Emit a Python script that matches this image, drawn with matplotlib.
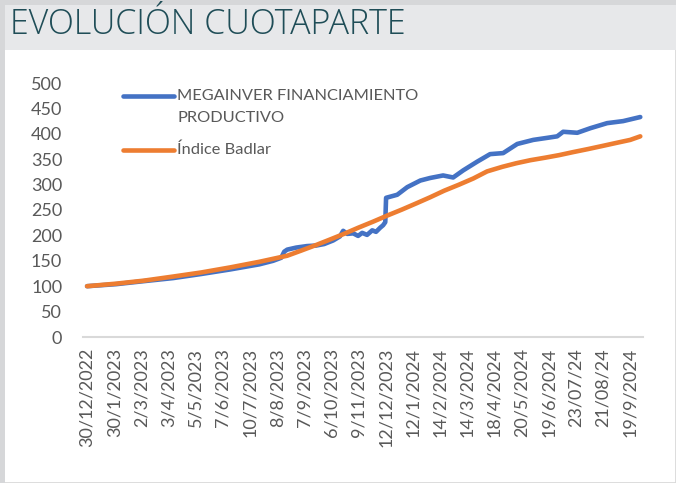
import matplotlib.pyplot as plt
from matplotlib.patches import Rectangle
from matplotlib.lines import Line2D

# tick labels (one every ~21 trading days on a category axis)
tick_labels = ['30/12/2022', '30/1/2023', '2/3/2023', '3/4/2023', '5/5/2023',
               '7/6/2023', '10/7/2023', '8/8/2023', '7/9/2023', '6/10/2023',
               '9/11/2023', '12/12/2023', '12/1/2024', '14/2/2024', '14/3/2024',
               '18/4/2024', '20/5/2024', '19/6/2024', '23/07/24', '21/08/24',
               '19/9/2024']

# position along the axis, in label steps
badlar_x = [0, 1.07, 2.10, 3.17, 4.20, 5.27, 6.34, 7.37, 7.88, 8.43, 8.95,
            9.46, 9.98, 10.53, 11.05, 11.60, 12.12, 12.63, 13.15, 13.70,
            14.22, 14.73, 15.29, 15.80, 16.32, 16.87, 17.38, 17.90, 18.45,
            18.97, 19.48, 20.0, 20.37]
badlar = [100, 105, 111, 119, 127, 137, 148, 160, 170, 181, 192, 203, 215,
          227, 239, 251, 263, 275, 288, 300, 312, 326, 335, 342, 348, 353,
          358, 364, 370, 376, 382, 388, 395]

fondo_x = [0, 1.07, 2.10, 3.17, 4.20, 5.27, 6.34, 6.85, 7.15, 7.26, 7.37,
           7.70, 8.10, 8.43, 8.73, 9.06, 9.31, 9.43, 9.58, 9.80, 9.98, 10.13,
           10.31, 10.50, 10.64, 10.79, 10.90, 10.98, 11.01, 11.42, 11.79,
           12.27, 12.63, 13.11, 13.48, 13.85, 14.36, 14.84, 15.32, 15.84,
           16.43, 16.94, 17.31, 17.53, 18.05, 18.53, 19.15, 19.74, 20.37]
fondo = [100, 104, 110, 116, 124, 133, 143, 150, 156, 168, 172, 176, 179,
         180, 183, 190, 198, 209, 203, 204, 199, 205, 201, 210, 207, 215, 220,
         226, 274, 280, 295, 308, 313, 318, 314, 328, 345, 360, 362, 380,
         388, 392, 395, 404, 402, 411, 421, 425, 433]

yticks = list(range(0, 501, 50))

font = 'Lato'
grey = '#595959'

fig = plt.figure(figsize=(6.76, 4.83), dpi=100)
fig.patch.set_facecolor('white')

# frame and title band
for r in [Rectangle((0, 0), 1, 1, facecolor='white', edgecolor='#D9D9D9', lw=2),
          Rectangle((0, 1 - 50 / 483), 1, 50 / 483, facecolor='#E7E8EA',
                    edgecolor='none'),
          Rectangle((0, 1 - 5 / 483), 1, 5 / 483, facecolor='#D6D7D9',
                    edgecolor='none'),
          Rectangle((0, 0), 5 / 676, 1, facecolor='#D6D7D9', edgecolor='none')]:
    r.set_transform(fig.transFigure)
    r.set_zorder(-10)
    fig.patches.append(r)

fig.text(10 / 676, 1 - 25 / 483, 'EVOLUCIÓN CUOTAPARTE', fontsize=24.5,
         family='Open Sans', fontweight='light', color='#1F4D57', va='center')

ax = fig.add_axes([83 / 676, 1 - 337 / 483, 560 / 676, 254 / 483])
ax.patch.set_alpha(0)
ax.plot(fondo_x, fondo, color='#4472C4', lw=3.3, solid_capstyle='round',
        solid_joinstyle='round')
ax.plot(badlar_x, badlar, color='#ED7D31', lw=3.3, solid_capstyle='round',
        solid_joinstyle='round')

ax.set_xlim(-0.15, 20.47)
ax.set_ylim(0, 500)
ax.set_yticks(yticks)
ax.set_yticklabels([str(v) for v in yticks], family=font, fontsize=13,
                   color=grey)
ax.set_xticks(range(len(tick_labels)))
ax.set_xticklabels(tick_labels, rotation=90, family=font, fontsize=13,
                   color=grey, va='top', ha='center')
ax.tick_params(axis='both', length=0)
ax.tick_params(axis='y', pad=15)
ax.tick_params(axis='x', pad=8)
for s in ['top', 'right', 'left']:
    ax.spines[s].set_visible(False)
ax.spines['bottom'].set_color('#D9D9D9')
ax.spines['bottom'].set_linewidth(1.5)

# legend
ax.add_line(Line2D([0.072, 0.163], [0.949, 0.949], transform=ax.transAxes,
                   color='#4472C4', lw=3.3, solid_capstyle='round'))
ax.add_line(Line2D([0.072, 0.163], [0.736, 0.736], transform=ax.transAxes,
                   color='#ED7D31', lw=3.3, solid_capstyle='round'))
ax.text(0.168, 0.949, 'MEGAINVER FINANCIAMIENTO', transform=ax.transAxes,
        family=font, fontsize=11.8, color=grey, va='center')
ax.text(0.168, 0.862, 'PRODUCTIVO', transform=ax.transAxes,
        family=font, fontsize=11.8, color=grey, va='center')
ax.text(0.168, 0.736, 'Índice Badlar', transform=ax.transAxes,
        family=font, fontsize=11.8, color=grey, va='center')

fig.savefig('out.png', dpi=100)
